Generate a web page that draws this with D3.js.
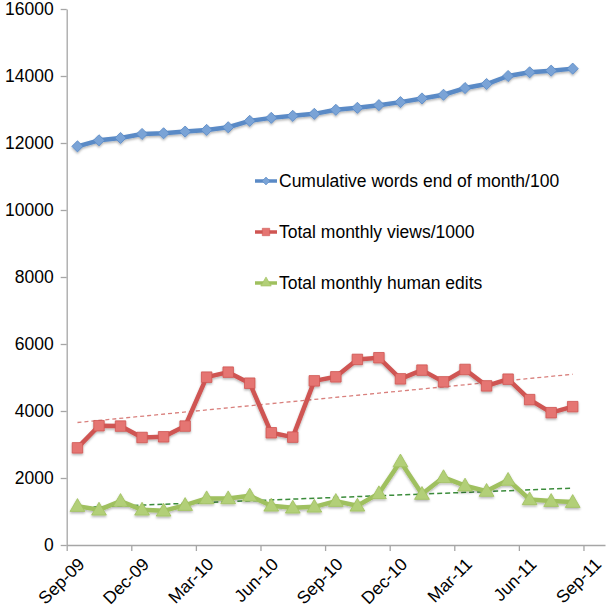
<!DOCTYPE html>
<html>
<head>
<meta charset="utf-8">
<script src="https://cdn.jsdelivr.net/npm/d3@7"></script>
<style>
  body { margin: 0; background: #fff; }
  svg { display: block; font-family: "Liberation Sans", Arial, sans-serif; }
  .axis path, .axis line { stroke: #a6a6a6; stroke-width: 1.3; }
  .axis text { fill: #000; font-size: 17.5px; }
</style>
</head>
<body>
<svg id="chart" width="608" height="612"></svg>
<script>
	// monthly data, Sep-09 .. Aug-11
	var months = ['Sep-09','Oct-09','Nov-09','Dec-09','Jan-10','Feb-10','Mar-10','Apr-10','May-10','Jun-10','Jul-10','Aug-10',
		'Sep-10','Oct-10','Nov-10','Dec-10','Jan-11','Feb-11','Mar-11','Apr-11','May-11','Jun-11','Jul-11','Aug-11'];

	var words = [11900, 12080, 12150, 12270, 12290, 12340, 12390, 12470, 12660, 12750, 12810, 12870,
		12990, 13050, 13130, 13220, 13330, 13440, 13640, 13760, 14000, 14110, 14160, 14220];

	var views = [2900, 3560, 3550, 3210, 3230, 3550, 5010, 5160, 4830, 3350, 3220, 4900,
		5020, 5540, 5590, 4960, 5220, 4870, 5240, 4750, 4950, 4340, 3950, 4130];

	var edits = [1160, 1050, 1310, 1050, 1020, 1190, 1390, 1390, 1470, 1170, 1110, 1140,
		1310, 1170, 1540, 2490, 1520, 2020, 1770, 1610, 1940, 1360, 1310, 1280];

	var x_tick_labels = ['Sep-09','Dec-09','Mar-10','Jun-10','Sep-10','Dec-10','Mar-11','Jun-11','Sep-11'];
	var y_ticks = [0, 2000, 4000, 6000, 8000, 10000, 12000, 14000, 16000];

	// diamond = square turned 45 degrees (d3's own diamond is too narrow)
	var series = [
		{ name: 'Cumulative words end of month/100', values: words, color: '#5a8ac6', marker: '#7aa3d6', shape: d3.symbolSquare, rotate: 45, size: 62, trend: null },
		{ name: 'Total monthly views/1000', values: views, color: '#cf5552', marker: '#e57572', shape: d3.symbolSquare, rotate: 0, size: 110, trend: { color: '#d9807d', width: 1.3, dash: '4,3' } },
		{ name: 'Total monthly human edits', values: edits, color: '#9fc05e', marker: '#b2cf78', shape: d3.symbolTriangle, rotate: 0, size: 95, trend: { color: '#3b8c3b', width: 1.5, dash: '5,3' } }
	];

	var svg = d3.select('#chart');

	var defs = svg.append('defs');
	var shadow = defs.append('filter').attr('id', 'shadow')
		.attr('x', '-20%').attr('y', '-20%').attr('width', '140%').attr('height', '140%');
	shadow.append('feDropShadow')
		.attr('dx', 0).attr('dy', 1.5).attr('stdDeviation', 1.2)
		.attr('flood-color', '#000').attr('flood-opacity', 0.3);

	var x = d3.scaleLinear().domain([0, 25]).range([66.7, 605]);
	var y = d3.scaleLinear().domain([0, 16000]).range([545, 9]);

	// y axis
	svg.append('g')
		.attr('class', 'axis')
		.attr('transform', 'translate(' + x(0) + ',0)')
		.call(d3.axisLeft(y).tickValues(y_ticks).tickSize(6).tickPadding(7).tickSizeOuter(0).tickFormat(d3.format('d')));

	// x axis
	var x_axis = svg.append('g')
		.attr('class', 'axis')
		.attr('transform', 'translate(0,' + y(0) + ')')
		.call(d3.axisBottom(x)
			.tickValues(d3.range(0, 25, 3))
			.tickSize(6)
			.tickSizeOuter(0)
			.tickFormat(function (d, i) { return x_tick_labels[i]; }));

	x_axis.selectAll('text')
		.attr('text-anchor', 'end')
		.attr('dy', '0.35em')
		.attr('transform', 'translate(14,16) rotate(-45)')
		.attr('x', 0).attr('y', 0);

	// trend lines (least squares over month index)
	function linear_fit(values) {
		var n = values.length;
		var mx = d3.mean(values, function (d, i) { return i; });
		var my = d3.mean(values);
		var sxy = 0, sxx = 0;
		values.forEach(function (v, i) { sxy += (i - mx) * (v - my); sxx += (i - mx) * (i - mx); });
		var b = sxy / sxx;
		return [[0, my - b * mx], [n - 1, my + b * (n - 1 - mx)]];
	}

	var line = d3.line()
		.x(function (d, i) { return x(i + 0.5); })
		.y(function (d) { return y(d); });

	series.forEach(function (s) {
		if (!s.trend) { return; }
		var fit = linear_fit(s.values);
		svg.append('line')
			.attr('x1', x(fit[0][0] + 0.5)).attr('y1', y(fit[0][1]))
			.attr('x2', x(fit[1][0] + 0.5)).attr('y2', y(fit[1][1]))
			.attr('stroke', s.trend.color)
			.attr('stroke-width', s.trend.width)
			.attr('stroke-dasharray', s.trend.dash);
	});

	series.forEach(function (s) {
		var g = svg.append('g').attr('filter', 'url(#shadow)');
		g.append('path')
			.datum(s.values)
			.attr('d', line)
			.attr('fill', 'none')
			.attr('stroke', s.color)
			.attr('stroke-width', 4.5)
			.attr('stroke-linejoin', 'round');

		g.selectAll('path.marker')
			.data(s.values)
			.enter().append('path')
			.attr('class', 'marker')
			.attr('d', d3.symbol().type(s.shape).size(s.size))
			.attr('transform', function (d, i) {
				var dy = s.shape === d3.symbolTriangle ? 1 : 0;
				return 'translate(' + x(i + 0.5) + ',' + (y(d) + dy) + ') rotate(' + s.rotate + ')';
			})
			.attr('fill', s.marker)
			.attr('stroke', s.color)
			.attr('stroke-width', 0.8);
	});

	// legend
	var legend_y = [181, 232, 283];
	series.forEach(function (s, i) {
		var lg = svg.append('g').attr('transform', 'translate(255,' + legend_y[i] + ')');
		lg.append('line')
			.attr('x1', 0).attr('x2', 22)
			.attr('stroke', s.color).attr('stroke-width', 3.5);
		lg.append('path')
			.attr('d', d3.symbol().type(s.shape).size(s.size * 0.5))
			.attr('transform', 'translate(11,0) rotate(' + s.rotate + ')')
			.attr('fill', s.marker)
			.attr('stroke', s.color)
			.attr('stroke-width', 0.6);
		lg.append('text')
			.attr('x', 24)
			.attr('dy', '0.35em')
			.attr('font-size', '17.5px')
			.attr('fill', '#000')
			.text(s.name);
	});
</script>
</body>
</html>
